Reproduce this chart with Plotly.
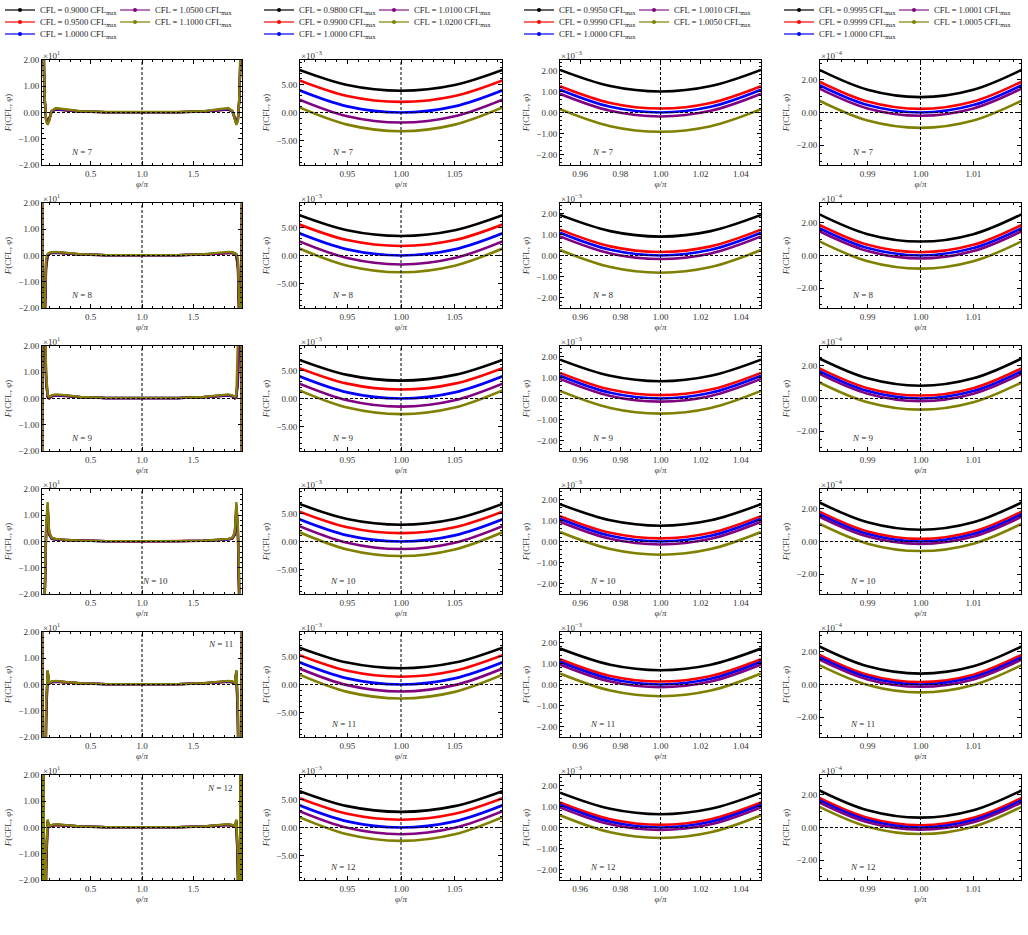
import plotly.graph_objects as go
from plotly.subplots import make_subplots

W, H = 1028, 935
FONT = "Liberation Serif"

COLORS = ["#000000", "#ff0000", "#0000ff", "#800080", "#808000"]
LEG_LINE = ["rgba(0,0,0,0.6)", "rgba(255,0,0,0.6)", "rgba(0,0,255,0.6)",
            "rgba(128,0,128,0.55)", "rgba(128,128,0,0.6)"]

CFL_COL1 = ["0.9000", "0.9500", "1.0000", "1.0500", "1.1000"]
CFL_COL2 = ["0.9800", "0.9900", "1.0000", "1.0100", "1.0200"]
CFL_COL3 = ["0.9950", "0.9990", "1.0000", "1.0010", "1.0050"]
CFL_COL4 = ["0.9995", "0.9999", "1.0000", "1.0001", "1.0005"]
N_VALUES = [7, 8, 9, 10, 11, 12]

# x samples (phi / pi)
X_FULL = [0.02, 0.035, 0.05, 0.065, 0.08, 0.095, 0.12, 0.16, 0.25, 0.4, 0.65, 1.0,
          1.35, 1.6, 1.75, 1.84, 1.88, 1.905, 1.92, 1.935, 1.95, 1.965, 1.98]
X_Z1 = [0.90, 0.95, 1.00, 1.05, 1.10]
X_Z2 = [0.95, 0.975, 1.00, 1.025, 1.05]
X_Z3 = [0.98, 0.99, 1.00, 1.01, 1.02]

# ---- column 1 (full range, units of 1e1); order: black, red, blue, purple, olive
FULL_N7 = [
    [8, 2.8, 0.5, -0.22, -0.32, -0.22, 0.04, 0.11, 0.08, 0.03, 0.01, 0.005, 0.01, 0.03, 0.08, 0.11, 0.04, -0.22, -0.32, -0.22, 0.5, 2.8, 8],
    [8, 3.0, 0.55, -0.25, -0.36, -0.25, 0.05, 0.12, 0.09, 0.035, 0.012, 0.008, 0.012, 0.035, 0.09, 0.12, 0.05, -0.25, -0.36, -0.25, 0.55, 3.0, 8],
    [8, 3.2, 0.6, -0.28, -0.4, -0.28, 0.05, 0.13, 0.1, 0.04, 0.015, 0.01, 0.015, 0.04, 0.1, 0.13, 0.05, -0.28, -0.4, -0.28, 0.6, 3.2, 8],
    [8, 3.4, 0.65, -0.3, -0.44, -0.3, 0.06, 0.15, 0.11, 0.045, 0.018, 0.015, 0.018, 0.045, 0.11, 0.15, 0.06, -0.3, -0.44, -0.3, 0.65, 3.4, 8],
    [8, 3.6, 0.7, -0.32, -0.47, -0.32, 0.07, 0.17, 0.12, 0.05, 0.02, 0.02, 0.02, 0.05, 0.12, 0.17, 0.07, -0.32, -0.47, -0.32, 0.7, 3.6, 8],
]
FULL_N8 = [
    [8, -8, -3.0, -0.5, -0.02, 0.06, 0.09, 0.1, 0.08, 0.035, 0.01, 0.003, 0.01, 0.035, 0.08, 0.1, 0.09, 0.06, -0.02, -0.5, -3.0, -8, 8],
    [8, -8, -2.8, -0.4, 0.0, 0.07, 0.1, 0.11, 0.085, 0.038, 0.011, 0.004, 0.011, 0.038, 0.085, 0.11, 0.1, 0.07, 0.0, -0.4, -2.8, -8, 8],
    [8, -8, -2.5, -0.3, 0.02, 0.08, 0.11, 0.12, 0.09, 0.04, 0.012, 0.005, 0.012, 0.04, 0.09, 0.12, 0.11, 0.08, 0.02, -0.3, -2.5, -8, 8],
    [8, -8, -2.2, -0.2, 0.04, 0.09, 0.12, 0.13, 0.1, 0.045, 0.014, 0.007, 0.014, 0.045, 0.1, 0.13, 0.12, 0.09, 0.04, -0.2, -2.2, -8, 8],
    [8, -8, -2.0, -0.1, 0.06, 0.1, 0.13, 0.14, 0.11, 0.05, 0.016, 0.01, 0.016, 0.05, 0.11, 0.14, 0.13, 0.1, 0.06, -0.1, -2.0, -8, 8],
]
FULL_N9 = [
    [-8, 8, 3.5, 0.6, 0.05, 0.0, 0.08, 0.11, 0.09, 0.045, 0.015, 0.005, 0.015, 0.045, 0.09, 0.11, 0.08, 0.0, 0.05, 0.6, 3.5, 8, -8],
    [-8, 8, 3.8, 0.7, 0.08, 0.02, 0.09, 0.12, 0.1, 0.05, 0.017, 0.007, 0.017, 0.05, 0.1, 0.12, 0.09, 0.02, 0.08, 0.7, 3.8, 8, -8],
    [-8, 8, 4.0, 0.8, 0.1, 0.04, 0.1, 0.13, 0.11, 0.055, 0.019, 0.008, 0.019, 0.055, 0.11, 0.13, 0.1, 0.04, 0.1, 0.8, 4.0, 8, -8],
    [-8, 8, 4.3, 0.9, 0.12, 0.05, 0.11, 0.14, 0.12, 0.06, 0.02, 0.01, 0.02, 0.06, 0.12, 0.14, 0.11, 0.05, 0.12, 0.9, 4.3, 8, -8],
    [-8, 8, 4.6, 1.0, 0.15, 0.06, 0.12, 0.16, 0.13, 0.065, 0.022, 0.012, 0.022, 0.065, 0.13, 0.16, 0.12, 0.06, 0.15, 1.0, 4.6, 8, -8],
]
FULL_N10 = [
    [-8, -8, -3.0, 0.2, 1.1, 0.25, 0.1, 0.07, 0.05, 0.025, 0.01, 0.003, 0.01, 0.025, 0.05, 0.07, 0.1, 0.25, 1.1, 0.2, -3.0, -8, -8],
    [-8, -8, -2.7, 0.3, 1.2, 0.28, 0.11, 0.08, 0.055, 0.028, 0.011, 0.004, 0.011, 0.028, 0.055, 0.08, 0.11, 0.28, 1.2, 0.3, -2.7, -8, -8],
    [-8, -8, -2.4, 0.4, 1.3, 0.3, 0.12, 0.08, 0.06, 0.03, 0.012, 0.005, 0.012, 0.03, 0.06, 0.08, 0.12, 0.3, 1.3, 0.4, -2.4, -8, -8],
    [-8, -8, -2.1, 0.5, 1.4, 0.33, 0.13, 0.09, 0.065, 0.032, 0.013, 0.006, 0.013, 0.032, 0.065, 0.09, 0.13, 0.33, 1.4, 0.5, -2.1, -8, -8],
    [-8, -8, -1.8, 0.6, 1.5, 0.35, 0.14, 0.1, 0.07, 0.035, 0.015, 0.008, 0.015, 0.035, 0.07, 0.1, 0.14, 0.35, 1.5, 0.6, -1.8, -8, -8],
]
FULL_N11 = [
    [8, -8, -8, -1.5, 0.4, 0.03, 0.08, 0.1, 0.08, 0.04, 0.01, 0.003, 0.01, 0.04, 0.08, 0.1, 0.08, 0.03, 0.4, -1.5, -8, -8, 8],
    [8, -8, -8, -1.3, 0.45, 0.04, 0.09, 0.11, 0.085, 0.042, 0.011, 0.004, 0.011, 0.042, 0.085, 0.11, 0.09, 0.04, 0.45, -1.3, -8, -8, 8],
    [8, -8, -8, -1.1, 0.5, 0.05, 0.1, 0.12, 0.09, 0.045, 0.012, 0.005, 0.012, 0.045, 0.09, 0.12, 0.1, 0.05, 0.5, -1.1, -8, -8, 8],
    [8, -8, -8, -0.9, 0.52, 0.06, 0.11, 0.13, 0.095, 0.048, 0.013, 0.006, 0.013, 0.048, 0.095, 0.13, 0.11, 0.06, 0.52, -0.9, -8, -8, 8],
    [8, -8, -8, -0.7, 0.55, 0.07, 0.12, 0.14, 0.1, 0.05, 0.015, 0.008, 0.015, 0.05, 0.1, 0.14, 0.12, 0.07, 0.55, -0.7, -8, -8, 8],
]
FULL_N12 = [
    [-8, 8, -8, -1.8, 0.2, 0.02, 0.06, 0.09, 0.07, 0.035, 0.01, 0.003, 0.01, 0.035, 0.07, 0.09, 0.06, 0.02, 0.2, -1.8, -8, 8, -8],
    [-8, 8, -8, -1.6, 0.22, 0.03, 0.07, 0.1, 0.075, 0.038, 0.011, 0.004, 0.011, 0.038, 0.075, 0.1, 0.07, 0.03, 0.22, -1.6, -8, 8, -8],
    [-8, 8, -8, -1.4, 0.25, 0.04, 0.08, 0.11, 0.08, 0.04, 0.012, 0.005, 0.012, 0.04, 0.08, 0.11, 0.08, 0.04, 0.25, -1.4, -8, 8, -8],
    [-8, 8, -8, -1.2, 0.27, 0.05, 0.09, 0.12, 0.085, 0.042, 0.013, 0.006, 0.013, 0.042, 0.085, 0.12, 0.09, 0.05, 0.27, -1.2, -8, 8, -8],
    [-8, 8, -8, -1.0, 0.3, 0.06, 0.1, 0.13, 0.09, 0.045, 0.015, 0.008, 0.015, 0.045, 0.09, 0.13, 0.1, 0.06, 0.3, -1.0, -8, 8, -8],
]

# ---- column 2 (units of 1e-3)
Z1_N7 = [[8.0, 4.93, 3.9, 4.93, 8.0], [6.15, 2.96, 1.9, 2.96, 6.15], [4.4, 1.1, 0.0, 1.1, 4.4],
         [2.75, -0.66, -1.8, -0.66, 2.75], [1.35, -2.17, -3.35, -2.17, 1.35]]
Z1_N8 = [[7.6, 4.53, 3.5, 4.53, 7.6], [5.95, 2.76, 1.7, 2.76, 5.95], [4.4, 1.1, 0.0, 1.1, 4.4],
         [2.95, -0.46, -1.6, -0.46, 2.95], [1.7, -1.82, -3.0, -1.82, 1.7]]
Z1_N9 = [[7.3, 4.23, 3.2, 4.23, 7.3], [5.85, 2.66, 1.6, 2.66, 5.85], [4.4, 1.1, 0.0, 1.1, 4.4],
         [3.1, -0.31, -1.45, -0.31, 3.1], [1.9, -1.62, -2.8, -1.62, 1.9]]
Z1_N10 = [[7.1, 4.03, 3.0, 4.03, 7.1], [5.75, 2.56, 1.5, 2.56, 5.75], [4.4, 1.1, 0.0, 1.1, 4.4],
          [3.2, -0.21, -1.35, -0.21, 3.2], [2.1, -1.42, -2.6, -1.42, 2.1]]
Z1_N11 = [[7.0, 3.93, 2.9, 3.93, 7.0], [5.65, 2.46, 1.4, 2.46, 5.65], [4.4, 1.1, 0.0, 1.1, 4.4],
          [3.3, -0.11, -1.25, -0.11, 3.3], [2.2, -1.32, -2.5, -1.32, 2.2]]
Z1_N12 = [[6.9, 3.83, 2.8, 3.83, 6.9], [5.65, 2.46, 1.4, 2.46, 5.65], [4.4, 1.1, 0.0, 1.1, 4.4],
          [3.35, -0.06, -1.2, -0.06, 3.35], [2.3, -1.22, -2.4, -1.22, 2.3]]

# ---- column 3 (units of 1e-3)
Z2_N7 = [[2.03, 1.26, 1.0, 1.26, 2.03], [1.25, 0.455, 0.19, 0.455, 1.25], [1.08, 0.27, 0.0, 0.27, 1.08],
         [0.89, 0.08, -0.19, 0.08, 0.89], [0.16, -0.65, -0.92, -0.65, 0.16]]
Z2_N8 = [[1.93, 1.16, 0.9, 1.16, 1.93], [1.23, 0.435, 0.17, 0.435, 1.23], [1.08, 0.27, 0.0, 0.27, 1.08],
         [0.91, 0.1, -0.17, 0.1, 0.91], [0.26, -0.55, -0.82, -0.55, 0.26]]
Z2_N9 = [[1.85, 1.08, 0.82, 1.08, 1.85], [1.22, 0.425, 0.16, 0.425, 1.22], [1.08, 0.27, 0.0, 0.27, 1.08],
         [0.93, 0.12, -0.15, 0.12, 0.93], [0.36, -0.45, -0.72, -0.45, 0.36]]
Z2_N10 = [[1.78, 1.01, 0.75, 1.01, 1.78], [1.21, 0.415, 0.15, 0.415, 1.21], [1.08, 0.27, 0.0, 0.27, 1.08],
          [0.94, 0.13, -0.14, 0.13, 0.94], [0.45, -0.36, -0.63, -0.36, 0.45]]
Z2_N11 = [[1.71, 0.94, 0.68, 0.94, 1.71], [1.2, 0.405, 0.14, 0.405, 1.2], [1.08, 0.27, 0.0, 0.27, 1.08],
          [0.95, 0.14, -0.13, 0.14, 0.95], [0.52, -0.29, -0.56, -0.29, 0.52]]
Z2_N12 = [[1.66, 0.89, 0.63, 0.89, 1.66], [1.19, 0.395, 0.13, 0.395, 1.19], [1.08, 0.27, 0.0, 0.27, 1.08],
          [0.96, 0.15, -0.12, 0.15, 0.96], [0.58, -0.23, -0.5, -0.23, 0.58]]

# ---- column 4 (units of 1e-4)
Z3_N7 = [[2.74, 1.39, 0.94, 1.39, 2.74], [2.02, 0.67, 0.22, 0.67, 2.02], [1.8, 0.45, 0.0, 0.45, 1.8],
         [1.6, 0.25, -0.2, 0.25, 1.6], [0.86, -0.49, -0.94, -0.49, 0.86]]
Z3_N8 = [[2.65, 1.3, 0.85, 1.3, 2.65], [2.0, 0.65, 0.2, 0.65, 2.0], [1.8, 0.45, 0.0, 0.45, 1.8],
         [1.62, 0.27, -0.18, 0.27, 1.62], [1.0, -0.35, -0.8, -0.35, 1.0]]
Z3_N9 = [[2.58, 1.23, 0.78, 1.23, 2.58], [1.98, 0.63, 0.18, 0.63, 1.98], [1.8, 0.45, 0.0, 0.45, 1.8],
         [1.64, 0.29, -0.16, 0.29, 1.64], [1.12, -0.23, -0.68, -0.23, 1.12]]
Z3_N10 = [[2.52, 1.17, 0.72, 1.17, 2.52], [1.96, 0.61, 0.16, 0.61, 1.96], [1.8, 0.45, 0.0, 0.45, 1.8],
          [1.65, 0.3, -0.15, 0.3, 1.65], [1.22, -0.13, -0.58, -0.13, 1.22]]
Z3_N11 = [[2.46, 1.11, 0.66, 1.11, 2.46], [1.95, 0.6, 0.15, 0.6, 1.95], [1.8, 0.45, 0.0, 0.45, 1.8],
          [1.66, 0.31, -0.14, 0.31, 1.66], [1.32, -0.03, -0.48, -0.03, 1.32]]
Z3_N12 = [[2.4, 1.05, 0.6, 1.05, 2.4], [1.94, 0.59, 0.14, 0.59, 1.94], [1.8, 0.45, 0.0, 0.45, 1.8],
          [1.67, 0.32, -0.13, 0.32, 1.67], [1.4, 0.05, -0.4, 0.05, 1.4]]

CFLS = [CFL_COL1, CFL_COL2, CFL_COL3, CFL_COL4]
X_SETS = [X_FULL, X_Z1, X_Z2, X_Z3]
DATA = [
    [FULL_N7, FULL_N8, FULL_N9, FULL_N10, FULL_N11, FULL_N12],
    [Z1_N7, Z1_N8, Z1_N9, Z1_N10, Z1_N11, Z1_N12],
    [Z2_N7, Z2_N8, Z2_N9, Z2_N10, Z2_N11, Z2_N12],
    [Z3_N7, Z3_N8, Z3_N9, Z3_N10, Z3_N11, Z3_N12],
]

# ---- layout parameters (pixels)
COL_PX = [(42, 242), (300, 502), (560, 761), (820, 1021)]
ROW_TOP = [60, 203, 346, 489, 632, 775]
ROW_H = 105
XR = [[0.025, 1.975], [0.906, 1.094], [0.95, 1.05], [0.981, 1.019]]
YR = [[-2, 2], [-9.4, 9.4], [-2.5, 2.5], [-3.2, 3.2]]
XD = [0.5, 0.05, 0.02, 0.01]
XMIN = [0.1, 0.01, 0.005, 0.0025]
YD = [1, 5, 1, 2]
YMIN = [0.2, 1, 0.2, 0.5]
XFMT = [".1f", ".2f", ".2f", ".2f"]
EXP = ["×10<sup>1</sup>", "×10<sup>−3</sup>", "×10<sup>−3</sup>", "×10<sup>−4</sup>"]
NPOS_COL1 = [(0.2, 0.125), (0.2, 0.125), (0.2, 0.125), (0.565, 0.125), (0.89, 0.885), (0.89, 0.88)]
NPOS_OTHER = (0.213, 0.125)
REF_X = 1.0
REF_Y = 0.0

fig = make_subplots(rows=6, cols=4)
TXT = "#333333"

for r in range(6):
    for c in range(4):
        idx = r * 4 + c + 1
        sfx = "" if idx == 1 else str(idx)
        for i in range(5):
            fig.add_trace(go.Scatter(
                x=X_SETS[c], y=DATA[c][r][i], mode="lines",
                line=dict(color=COLORS[i], width=2.6 if c else 2.3,
                          shape="linear" if c == 0 else "spline"),
                showlegend=False, hoverinfo="skip"), row=r + 1, col=c + 1)
        x0, x1 = COL_PX[c]
        top = ROW_TOP[r]
        fig.layout["xaxis" + sfx].update(
            domain=[x0 / W, x1 / W], range=XR[c], dtick=XD[c], tick0=1.0,
            tickformat=XFMT[c], ticks="inside", ticklen=4, tickwidth=0.8, tickcolor="black",
            minor=dict(ticks="inside", ticklen=2, tickcolor="black", dtick=XMIN[c], tick0=1.0),
            showline=True, linecolor="black", linewidth=1, mirror="ticks",
            showgrid=False, zeroline=False,
            tickfont=dict(family=FONT, size=9, color=TXT),
            title=dict(text="<i>φ</i>/<i>π</i>", font=dict(family=FONT, size=9, color=TXT), standoff=1))
        fig.layout["yaxis" + sfx].update(
            domain=[1 - (top + ROW_H) / H, 1 - top / H], range=YR[c], dtick=YD[c], tick0=0,
            tickformat=".2f", ticks="inside", ticklen=4, tickwidth=0.8, tickcolor="black",
            minor=dict(ticks="inside", ticklen=2, tickcolor="black", dtick=YMIN[c], tick0=0),
            showline=True, linecolor="black", linewidth=1, mirror="ticks",
            showgrid=False, zeroline=False,
            tickfont=dict(family=FONT, size=9, color=TXT),
            title=dict(text="<i>F</i>(CFL, <i>φ</i>)", font=dict(family=FONT, size=9, color=TXT), standoff=5))
        xr = "x" + sfx
        yr = "y" + sfx
        dash = dict(color="black", width=1, dash="3px,2px")
        fig.add_shape(type="line", xref=xr, yref=yr + " domain", x0=REF_X, x1=REF_X, y0=0, y1=1,
                      line=dash, layer="above")
        fig.add_shape(type="line", xref=xr + " domain", yref=yr, x0=0, x1=1, y0=REF_Y, y1=REF_Y,
                      line=dash, layer="above")
        fig.add_annotation(xref=xr + " domain", yref=yr + " domain", x=0, y=1,
                           xanchor="left", yanchor="bottom", showarrow=False, text=EXP[c],
                           font=dict(family=FONT, size=9, color=TXT), borderpad=0, yshift=-2)
        nx, ny = NPOS_COL1[r] if c == 0 else NPOS_OTHER
        fig.add_annotation(xref=xr + " domain", yref=yr + " domain", x=nx, y=ny,
                           xanchor="center", yanchor="middle", showarrow=False,
                           text=f"<i>N</i> = {N_VALUES[r]}",
                           font=dict(family=FONT, size=9, color=TXT))

# ---- legends: one per entry, two columns above each panel column
LEG_X0 = [0, 259, 519, 779]
LEG_ROW_Y = [10, 22, 34]
legends = {}
for c in range(4):
    for i in range(5):
        k = c * 5 + i + 1
        lid = "legend" if k == 1 else f"legend{k}"
        fig.add_trace(go.Scatter(
            x=[None], y=[None], mode="lines+markers",
            name=f"CFL = {CFLS[c][i]} CFL<sub>max</sub>",
            line=dict(color=LEG_LINE[i], width=2), marker=dict(color=COLORS[i], size=4),
            legend=lid, showlegend=True, hoverinfo="skip", xaxis="x", yaxis="y"))
        colx = LEG_X0[c] + (0 if i < 3 else 115)
        rowy = LEG_ROW_Y[i if i < 3 else i - 3]
        legends[lid] = dict(x=colx / W, y=1 - rowy / H, xanchor="left", yanchor="middle",
                            bgcolor="rgba(0,0,0,0)", borderwidth=0, itemwidth=30,
                            font=dict(family=FONT, size=8.6, color="#222222"),
                            tracegroupgap=0, orientation="v")

fig.update_layout(
    width=W, height=H, margin=dict(l=0, r=0, t=0, b=0, autoexpand=False),
    paper_bgcolor="white", plot_bgcolor="white",
    font=dict(family=FONT, size=9, color=TXT),
    **legends)

fig.write_html("out.html")
